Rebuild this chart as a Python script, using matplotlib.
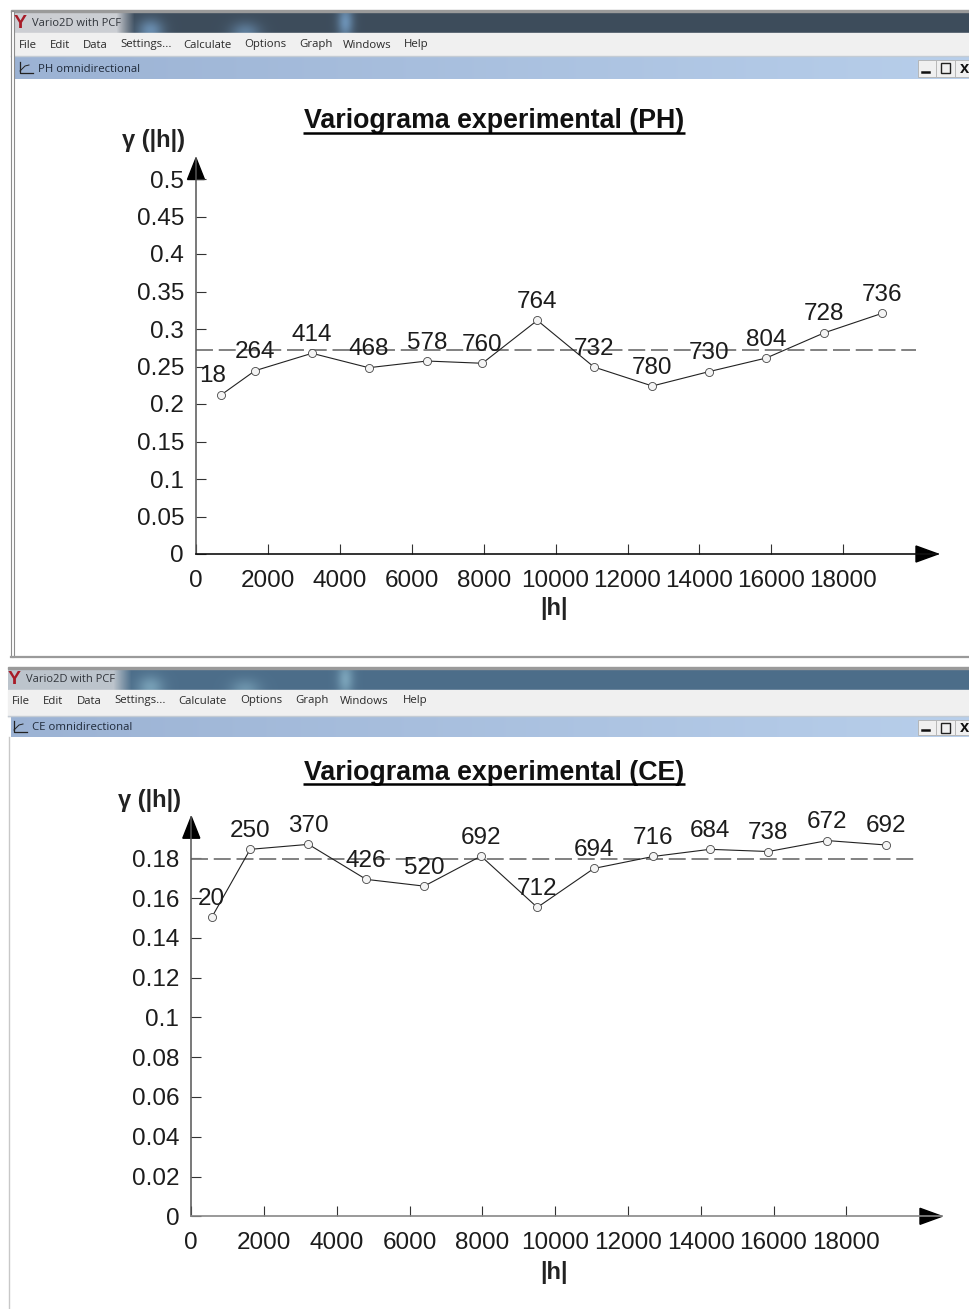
#!/usr/bin/env python3
import numpy as np
import matplotlib
matplotlib.use('Agg')
import matplotlib.pyplot as plt
from matplotlib.patches import Polygon, Rectangle

W, H = 969, 1309

# top chart (PH)
ph_h = [695, 1641, 3226, 4803, 6423, 7963, 9491, 11067, 12689, 14260, 15857, 17476, 19080]
ph_gamma = [.212, .2444, .2676, .2484, .2573, .2543, .3115, .2493, .224, .2431, .2613, .295, .3209]
ph_pairs = [18, 264, 414, 468, 578, 760, 764, 732, 780, 730, 804, 728, 736]
ph_sill = .272
ph_yticks = [0, .05, .1, .15, .2, .25, .3, .35, .4, .45, .5]
ph_ylabels = ['0', '0.05', '0.1', '0.15', '0.2', '0.25', '0.3', '0.35', '0.4', '0.45', '0.5']

# bottom chart (CE)
ce_h = [562, 1618, 3220, 4805, 6399, 7961, 9508, 11065, 12688, 14250, 15856, 17478, 19082]
ce_gamma = [.1503, .1845, .187, .1694, .166, .1811, .1553, .1749, .1809, .1845, .1834, .1889, .1867]
ce_pairs = [20, 250, 370, 426, 520, 692, 712, 694, 716, 684, 738, 672, 692]
ce_sill = .1797
ce_yticks = [0, .02, .04, .06, .08, .1, .12, .14, .16, .18]
ce_ylabels = ['0', '0.02', '0.04', '0.06', '0.08', '0.1', '0.12', '0.14', '0.16', '0.18']

xticks = [0, 2000, 4000, 6000, 8000, 10000, 12000, 14000, 16000, 18000]
menu_items = ['File', 'Edit', 'Data', 'Settings...', 'Calculate', 'Options', 'Graph', 'Windows', 'Help']

SANS = 'Liberation Sans'
UI = 'Open Sans'
TXT = '#1c1c1c'
FS = 17.5

fig = plt.figure(figsize=(W / 100, H / 100), dpi=100)
bg = fig.add_axes([0, 0, 1, 1])
bg.set_xlim(0, W)
bg.set_ylim(H, 0)
bg.axis('off')


def title_bar(left, top, bottom, dark, light, blob):
    # aero style title bar, pale tab on the left then dark with soft blobs
    x = np.arange(left, W)
    y = np.linspace(0, 1, bottom - top)
    rows = np.zeros((len(y), len(x), 3))
    tab = np.clip((x - left - 105) / 18., 0, 1)[:, None]
    rows[:] = np.array(light) * (1 - tab) + np.array(dark) * tab
    for cx, sx, cy, sy, amt in [(150, 13, .9, .55, .65), (245, 15, 1., .5, .5), (345, 8, .5, .8, .7)]:
        g = (np.exp(-((x - cx) / sx) ** 2)[None, :] * np.exp(-((y - cy) / sy) ** 2)[:, None] * amt)[:, :, None]
        rows = rows * (1 - g) + np.array(blob) * g
    bg.imshow(rows, extent=(left, W, bottom, top), aspect='auto', zorder=1)
    bg.set_xlim(0, W)
    bg.set_ylim(H, 0)


def window(left, top, inset, xs_menu, sub_title, dark, light, blob, bottom, ys, frame):
    title_y, menu_y, sub_top, sub_bot = ys
    bg.add_patch(Rectangle((left, top - 1), W - left, 1.5, color='#9a9a9a', zorder=2))
    title_bar(left, top, top + 22, dark, light, blob)
    bg.add_patch(Rectangle((left, top + 22), W - left, sub_top - top - 22, color='#f0f0f0', zorder=1))
    bg.plot([left, W], [sub_top - 1.5] * 2, color='#c4ccd4', lw=1, zorder=2)

    grad = np.zeros((1, W - left - 3, 3))
    t = np.linspace(0, 1, W - left - 3)[:, None]
    grad[0] = t * np.array([.72, .81, .92]) + (1 - t) * np.array([.61, .70, .83])
    bg.imshow(grad, extent=(left + 3, W, sub_bot, sub_top), aspect='auto', zorder=1)
    bg.set_xlim(0, W)
    bg.set_ylim(H, 0)

    # icon, captions
    bg.text(left + 9 + inset, title_y + 6, 'Y', color='#a81c28', fontsize=14, fontweight='bold', family=SANS,
            ha='center', va='baseline', zorder=3)
    bg.text(left + 21 + inset, title_y + 3.5, 'Vario2D with PCF', color='#30343a', fontsize=8, family=UI,
            va='baseline', zorder=3)
    for name, xm in zip(menu_items, xs_menu):
        bg.text(xm, menu_y + 3.5, name, color='#2a2a2a', fontsize=8.2, family=UI, va='baseline', zorder=3)
    sub_y = (sub_top + sub_bot) / 2
    bg.text(left + 27 + inset, sub_y + 3.5, sub_title, color='#1f2a3a', fontsize=8.2, family=UI,
            va='baseline', zorder=3)
    ix = left + inset
    bg.plot([ix + 9, ix + 9, ix + 22], [sub_y - 6, sub_y + 5, sub_y + 5], color='#222222', lw=.9, zorder=3)
    bg.plot([ix + 9, ix + 14, ix + 18], [sub_y + 3, sub_y - 2, sub_y - 3], color='#222222', lw=.7, zorder=3)

    # min / max / close buttons
    bg.add_patch(Rectangle((918, sub_top + 3), W - 918, sub_bot - sub_top - 5, facecolor='#f0f0f0',
                           edgecolor='#b0b0b0', lw=.6, zorder=2))
    bg.plot([936.5, 936.5], [sub_top + 3, sub_bot - 2], color='#b8b8b8', lw=.7, zorder=3)
    bg.plot([955.5, 955.5], [sub_top + 3, sub_bot - 2], color='#b8b8b8', lw=.7, zorder=3)
    bg.plot([922, 929], [sub_bot - 7] * 2, color='#111111', lw=1.8, zorder=3)
    bg.add_patch(Rectangle((941, sub_top + 6), 9, 10, fill=False, edgecolor='#222222', lw=1, zorder=3))
    bg.text(965, sub_y + .5, 'x', color='#111111', fontsize=12, fontweight='bold', family=SANS,
            ha='center', va='center', zorder=3)

    # window frame
    if frame:
        bg.add_patch(Rectangle((left, top), 3, bottom - top, facecolor='#ffffff', edgecolor='#8c8c8c',
                               lw=.8, zorder=2))
        bg.plot([left, W], [bottom, bottom], color='#9a9a9a', lw=1.6, zorder=2)
    else:
        bg.plot([left + 1, left + 1], [sub_bot, H], color='#c8c8c8', lw=1, zorder=2)


def chart(x0, y0, xscale, yscale, tip_x, tip_y, hs, gamma, pairs, sill, yticks, ylabels,
          title, title_y, ylab_x, ylab_y, hlab_y, y_tick_x, axis_col, first_dx):
    ax = fig.add_axes([x0 / W, 1 - y0 / H, (tip_x - x0) / W, (y0 - tip_y) / H], zorder=5)
    ax.patch.set_alpha(0)
    ax.set_xlim(0, (tip_x - x0) / xscale)
    ax.set_ylim(0, (y0 - tip_y) / yscale)
    ax.spines['top'].set_visible(False)
    ax.spines['right'].set_visible(False)
    ax.spines['left'].set_color('#555555')
    ax.spines['bottom'].set_color(axis_col)
    ax.spines['left'].set_linewidth(1.1)
    ax.spines['bottom'].set_linewidth(1.2)

    ax.set_xticks(xticks)
    ax.set_xticklabels([str(v) for v in xticks])
    ax.set_yticks(yticks)
    ax.set_yticklabels(ylabels)
    ax.tick_params(axis='both', direction='in', length=7.2, width=.8, color='#333333',
                   labelsize=FS, labelcolor=TXT)
    ax.tick_params(axis='x', pad=11.3)
    ax.tick_params(axis='y', pad=(x0 - y_tick_x) * .72)
    for lab in ax.get_xticklabels() + ax.get_yticklabels():
        lab.set_family(SANS)

    # sill
    ax.plot([0, (916 - x0) / xscale], [sill, sill], color='#777777', lw=1.3,
            linestyle=(0, (9.4, 3.2)), zorder=2)
    # experimental variogram
    ax.plot(hs, gamma, color='#222222', lw=.8, marker='o', markersize=5.8, mfc='#f4f4f4',
            mec='#444444', mew=.6, zorder=3)
    for i, (hv, g, n) in enumerate(zip(hs, gamma, pairs)):
        dx = first_dx if i == 0 else 0
        ax.annotate(str(n), (hv, g), xytext=(dx * .72, 18.5 * .72), textcoords='offset points',
                    ha='center', va='center', fontsize=FS, family=SANS, color=TXT, zorder=4)

    # arrow heads
    bg.add_patch(Polygon([(tip_x - 22, y0 - 8), (tip_x, y0), (tip_x - 22, y0 + 8)], color='black', zorder=6))
    bg.add_patch(Polygon([(x0 - 8.5, tip_y + 21.5), (x0, tip_y), (x0 + 8.5, tip_y + 21.5)], color='black', zorder=6))

    # texts
    bg.text(494, title_y + 1.5, title, fontsize=19.3, fontweight='bold', family=SANS, color='#111111',
            ha='center', va='center', zorder=3)
    bg.plot([303, 685], [title_y + 12.5] * 2, color='black', lw=1.8, solid_capstyle='butt', zorder=3)
    bg.text(ylab_x, ylab_y + 1, 'γ (|h|)', fontsize=17, fontweight='bold', family=SANS, color='#222222',
            ha='center', va='center', zorder=3)
    bg.text(554, hlab_y + 2, '|h|', fontsize=17, fontweight='bold', family=SANS, color='#222222',
            ha='center', va='center', zorder=3)
    return ax


window(11, 11, 0, [19, 50, 83, 120, 183, 244, 299, 343, 404], 'PH omnidirectional',
       (.24, .30, .36), (.80, .81, .83), (.50, .68, .85), 657, (22, 44, 57, 79), True)
window(8, 668, -3, [12, 43, 77, 114, 178, 240, 295, 340, 403], 'CE omnidirectional',
       (.30, .43, .54), (.74, .77, .80), (.55, .72, .80), H, (678, 700, 717, 737), False)

chart(196, 554, .03596, 750, 938, 158, ph_h, ph_gamma, ph_pairs, ph_sill, ph_yticks, ph_ylabels,
      'Variograma experimental (PH)', 120, 153.5, 140, 607, 184, '#111111', -8)
chart(191.3, 1216.3, .03639, 1989, 942, 816.7, ce_h, ce_gamma, ce_pairs, ce_sill, ce_yticks, ce_ylabels,
      'Variograma experimental (CE)', 771, 149.5, 800, 1270, 179.3, '#888888', 0)

fig.savefig('out.png', dpi=100)
